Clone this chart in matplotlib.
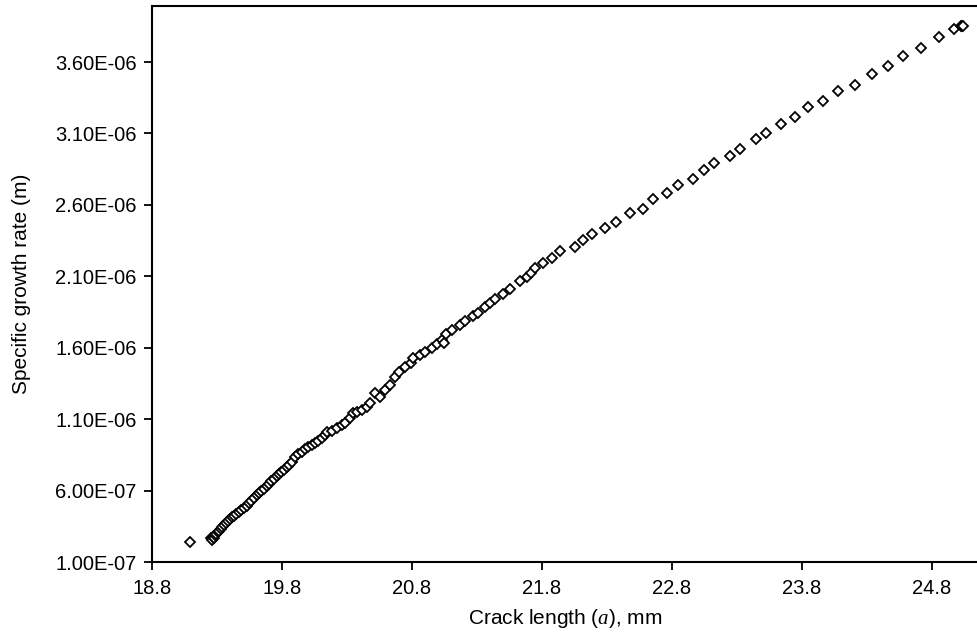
import matplotlib
matplotlib.use('Agg')
import matplotlib.pyplot as plt
import numpy as np

plt.rcParams['font.family'] = ['Liberation Sans', 'DejaVu Sans']
plt.rcParams['mathtext.fontset'] = 'custom'
plt.rcParams['mathtext.it'] = 'Liberation Serif:italic'
plt.rcParams['mathtext.rm'] = 'Liberation Sans'

# crack length (mm) and specific growth rate (m)
crack_len = [
    19.092,
    19.254, 19.262, 19.269, 19.277, 19.285, 19.296, 19.308, 19.319, 19.331,
    19.342, 19.354, 19.369, 19.385, 19.400, 19.415, 19.431, 19.450, 19.469,
    19.488, 19.508, 19.527, 19.546, 19.565, 19.585, 19.604, 19.623, 19.642,
    19.662, 19.681, 19.700, 19.719, 19.738, 19.758, 19.777, 19.796, 19.815,
    19.835, 19.854, 19.877,
    19.900, 19.925, 19.952, 19.977, 20.002, 20.028, 20.054, 20.079, 20.105,
    20.131, 20.148, 20.182, 20.221, 20.259, 20.285, 20.323, 20.348, 20.375,
    20.413, 20.452, 20.477, 20.515, 20.554, 20.592, 20.631, 20.669, 20.702,
    20.746, 20.790,
    20.810, 20.862, 20.900, 20.952, 20.990, 21.028, 21.046, 21.062, 21.105,
    21.169, 21.208, 21.272, 21.310, 21.362, 21.400, 21.438, 21.502, 21.554,
    21.631, 21.682, 21.715,
    21.746, 21.805, 21.875, 21.938, 22.054, 22.118, 22.182, 22.285, 22.369,
    22.477, 22.579,
    22.652, 22.759, 22.848, 22.964, 23.046, 23.123, 23.246, 23.323, 23.446,
    23.523, 23.636, 23.746, 23.848, 23.959, 24.079, 24.208, 24.341, 24.464,
    24.575, 24.713, 24.856, 24.969, 25.021, 25.030, 25.036,
]
growth_rate = [
    2.42e-7,
    2.65e-7, 2.54e-7, 2.75e-7, 2.68e-7, 2.86e-7, 2.96e-7, 3.07e-7, 3.17e-7, 3.31e-7,
    3.42e-7, 3.56e-7, 3.70e-7, 3.84e-7, 3.98e-7, 4.12e-7, 4.22e-7, 4.33e-7, 4.47e-7,
    4.64e-7, 4.78e-7, 4.92e-7, 5.10e-7, 5.27e-7, 5.45e-7, 5.66e-7, 5.83e-7, 5.97e-7,
    6.11e-7, 6.29e-7, 6.46e-7, 6.64e-7, 6.81e-7, 6.99e-7, 7.13e-7, 7.30e-7, 7.44e-7,
    7.62e-7, 7.79e-7, 8.00e-7,
    8.37e-7, 8.56e-7, 8.72e-7, 8.89e-7, 9.03e-7, 9.17e-7, 9.31e-7, 9.47e-7, 9.66e-7,
    9.89e-7, 1.012e-6, 1.019e-6, 1.036e-6, 1.059e-6, 1.075e-6, 1.106e-6, 1.140e-6, 1.152e-6,
    1.164e-6, 1.187e-6, 1.215e-6, 1.281e-6, 1.257e-6, 1.304e-6, 1.339e-6, 1.397e-6, 1.432e-6,
    1.463e-6, 1.495e-6,
    1.526e-6, 1.549e-6, 1.572e-6, 1.596e-6, 1.623e-6, 1.654e-6, 1.633e-6, 1.696e-6, 1.721e-6,
    1.759e-6, 1.784e-6, 1.822e-6, 1.843e-6, 1.882e-6, 1.913e-6, 1.938e-6, 1.976e-6, 2.011e-6,
    2.064e-6, 2.095e-6, 2.123e-6,
    2.156e-6, 2.191e-6, 2.226e-6, 2.279e-6, 2.303e-6, 2.354e-6, 2.396e-6, 2.440e-6, 2.482e-6,
    2.545e-6, 2.571e-6,
    2.639e-6, 2.681e-6, 2.739e-6, 2.781e-6, 2.844e-6, 2.891e-6, 2.944e-6, 2.991e-6, 3.059e-6,
    3.101e-6, 3.166e-6, 3.213e-6, 3.283e-6, 3.327e-6, 3.399e-6, 3.439e-6, 3.516e-6, 3.574e-6,
    3.644e-6, 3.700e-6, 3.773e-6, 3.829e-6, 3.852e-6, 3.850e-6, 3.854e-6,
]

x_ticks = [18.8, 19.8, 20.8, 21.8, 22.8, 23.8, 24.8]
y_ticks = [1.0e-7, 6.0e-7, 1.1e-6, 1.6e-6, 2.1e-6, 2.6e-6, 3.1e-6, 3.6e-6]

fig = plt.figure(figsize=(9.78, 6.37), dpi=100)
ax = fig.add_axes([152 / 978, 1 - 562 / 637, 1 - 152 / 978, (562 - 6) / 637])

ax.plot(crack_len, growth_rate, linestyle='none', marker='D', markersize=4.8,
        markerfacecolor='white', markeredgecolor='black', markeredgewidth=1.3)

ax.set_xlim(18.8, 25.154)
ax.set_ylim(1.0e-7, 3.992e-6)
ax.set_xticks(x_ticks)
ax.set_xticklabels(['{:.1f}'.format(v) for v in x_ticks])
ax.set_yticks(y_ticks)
ax.set_yticklabels(['{:.2E}'.format(v) for v in y_ticks])

for side in ['left', 'bottom', 'top']:
    ax.spines[side].set_linewidth(1.5)
ax.spines['right'].set_visible(False)
ax.tick_params(axis='both', direction='out', length=6, width=1.3,
               labelsize=14.5, pad=6, colors='black')
ax.tick_params(axis='y', pad=5)
ax.tick_params(top=False, right=False)

ax.set_xlabel('Crack length ($a$), mm', fontsize=15, labelpad=7)
ax.set_ylabel('Specific growth rate (m)', fontsize=15, labelpad=17)

fig.savefig('out.png', dpi=100)
